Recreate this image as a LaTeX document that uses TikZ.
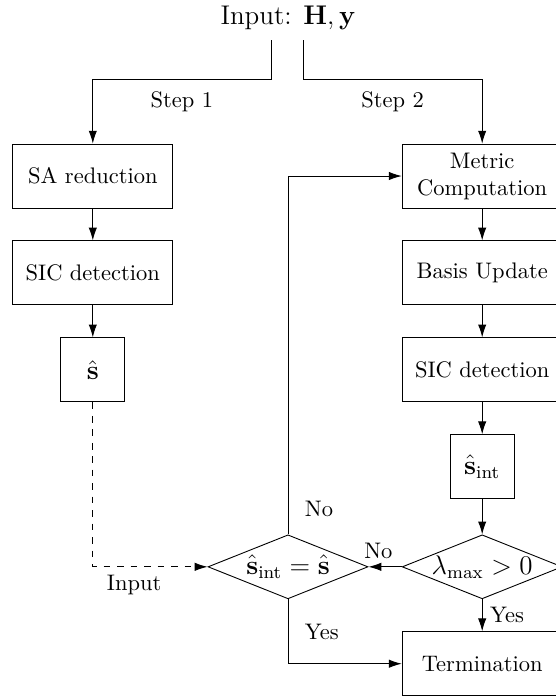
\documentclass[tikz,border=0pt]{standalone}
\usepackage{amsmath}
\usepackage{tikz}
\usetikzlibrary{arrows.meta, positioning, shapes.geometric}

\begin{document}
\begin{tikzpicture}[
  box/.style={draw, minimum width=2.5cm, minimum height=1cm, align=center},
  sbox/.style={draw, minimum width=1cm, minimum height=1cm, font=\large},
  dec/.style={draw, diamond, aspect=2.5, inner sep=0pt, minimum width=2.5cm, minimum height=1cm, font=\large},
  lbl/.style={align=center},
  arr/.style={-{Latex[length=2mm, width=1.3mm]}}
]
\useasboundingbox (0,0) rectangle (8.672,-10.906);
\node[font=\large] (in) at (4.5,-0.28) {Input: $\mathbf{H},\mathbf{y}$};
\coordinate (inl) at (4.234,-0.625);
\coordinate (inr) at (4.734,-0.625);

\node[box] (sa) at (1.45,-2.75) {SA reduction};
\node[box, below=0.5cm of sa] (sic1) {SIC detection};
\node[sbox, below=0.5cm of sic1] (s) {$\hat{\mathbf{s}}$};
\node[box, right=3.57cm of sa] (mc) {Metric\\Computation};
\node[box, below=0.5cm of mc] (bu) {Basis Update};
\node[box, below=0.5cm of bu] (sic2) {SIC detection};
\node[sbox, below=0.5cm of sic2] (sint) {$\hat{\mathbf{s}}_{\text{int}}$};
\node[dec, below=0.55cm of sint] (lam) {\makebox[0pt]{$\lambda_{\max} > 0$}};
\node[box, below=0.5cm of lam] (term) {Termination};
\node[dec, left=0.52cm of lam] (chk) {\makebox[0pt]{$\hat{\mathbf{s}}_{\text{int}} = \hat{\mathbf{s}}$}};

\draw[arr] (inl) -- ++(0,-0.61) -| node[lbl, pos=0.25, below, yshift=-2pt]{Step 1} (sa);
\draw[arr] (inr) -- ++(0,-0.61) -| node[lbl, pos=0.25, below, yshift=-2pt]{Step 2} (mc);
\draw[arr] (sa) -- (sic1);
\draw[arr] (sic1) -- (s);
\draw[arr, dashed] (s) |- node[lbl, pos=0.68, below]{Input} (chk);
\draw[arr] (mc) -- (bu);
\draw[arr] (bu) -- (sic2);
\draw[arr] (sic2) -- (sint);
\draw[arr] (sint) -- (lam);
\draw[arr] (lam) -- node[lbl, above, xshift=-3pt]{No} (chk);
\draw[arr] (lam) -- node[lbl, right]{Yes} (term);
\draw[arr] (chk.north) |- node[lbl, pos=0.035, right, xshift=4pt]{No} (mc.west);
\draw[arr] (chk.south) |- node[lbl, pos=0.25, right, xshift=4pt]{Yes} (term.west);
\end{tikzpicture}
\end{document}
